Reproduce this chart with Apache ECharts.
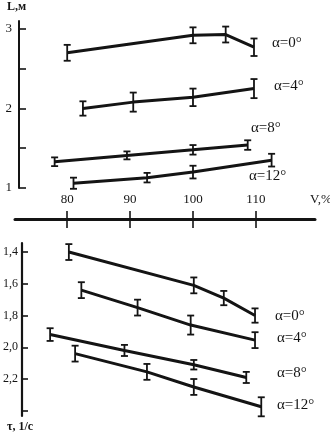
<!DOCTYPE html>
<html>
<head>
<meta charset="utf-8">
<script src="https://cdn.jsdelivr.net/npm/echarts@6/dist/echarts.min.js"></script>
<style>
  html, body { margin: 0; padding: 0; background: #fff; }
  #chart { width: 330px; height: 435px; }
</style>
</head>
<body>
<div id="chart"></div>
<script>
// Tick values and labels
const speedTicks = [80, 90, 100, 110];
const lengthTicks = [1, 1.5, 2, 2.5, 3];
const lengthLabels = [1, 2, 3];
const timeTicks = [1.4, 1.6, 1.8, 2.0, 2.2, 2.4];
const timeLabels = [1.4, 1.6, 1.8, 2.0, 2.2];
const angleNames = ['α=0°', 'α=4°', 'α=8°', 'α=12°'];

// Length L (m) versus speed V (%), with measurement spread
const lenSpeed0 = [80, 100, 105.2, 109.7];
const lenValue0 = [2.70, 2.92, 2.93, 2.77];
const lenError0 = [0.10, 0.10, 0.10, 0.11];

const lenSpeed4 = [82.5, 90.5, 100, 109.7];
const lenValue4 = [2.00, 2.08, 2.14, 2.25];
const lenError4 = [0.09, 0.12, 0.11, 0.12];

const lenSpeed8 = [78, 89.5, 100, 108.7];
const lenValue8 = [1.33, 1.41, 1.48, 1.54];
const lenError8 = [0.055, 0.05, 0.06, 0.06];

const lenSpeed12 = [81, 92.7, 100, 112.5];
const lenValue12 = [1.06, 1.13, 1.20, 1.35];
const lenError12 = [0.07, 0.06, 0.08, 0.08];

// Time τ (1/s) versus speed V (%), with measurement spread
const timeSpeed0 = [80, 100, 104.8, 109.8];
const timeValue0 = [1.40, 1.61, 1.69, 1.80];
const timeError0 = [0.05, 0.05, 0.045, 0.045];

const timeSpeed4 = [82, 91, 99.5, 109.8];
const timeValue4 = [1.64, 1.75, 1.86, 1.955];
const timeError4 = [0.05, 0.05, 0.06, 0.05];

const timeSpeed8 = [77, 88.9, 100, 108.4];
const timeValue8 = [1.92, 2.02, 2.11, 2.19];
const timeError8 = [0.04, 0.035, 0.03, 0.035];

const timeSpeed12 = [81, 92.5, 100, 110.8];
const timeValue12 = [2.04, 2.155, 2.25, 2.375];
const timeError12 = [0.05, 0.05, 0.05, 0.06];

const INK = '#141414';
const FONT = 'Liberation Serif';
const X_MIN = 71.7, X_MAX = 119.4;

const lenSets = [
  [lenSpeed0, lenValue0, lenError0],
  [lenSpeed4, lenValue4, lenError4],
  [lenSpeed8, lenValue8, lenError8],
  [lenSpeed12, lenValue12, lenError12]
];
const timeSets = [
  [timeSpeed0, timeValue0, timeError0],
  [timeSpeed4, timeValue4, timeError4],
  [timeSpeed8, timeValue8, timeError8],
  [timeSpeed12, timeValue12, timeError12]
];

// I-shaped error bar drawn through the axis scales
function renderErrorBar(params, api) {
  const x = api.value(0), y = api.value(1), e = api.value(2);
  const a = api.coord([x, y + e]);
  const b = api.coord([x, y - e]);
  const cap = 3.5;
  const style = { stroke: INK, lineWidth: 1.8 };
  return {
    type: 'group',
    children: [
      { type: 'line', shape: { x1: a[0], y1: a[1], x2: b[0], y2: b[1] }, style },
      { type: 'line', shape: { x1: a[0] - cap, y1: a[1], x2: a[0] + cap, y2: a[1] }, style },
      { type: 'line', shape: { x1: b[0] - cap, y1: b[1], x2: b[0] + cap, y2: b[1] }, style }
    ]
  };
}

function buildSeries(sets, xIndex, yIndex) {
  const out = [];
  sets.forEach(([xs, ys, es], i) => {
    out.push({
      type: 'line',
      name: angleNames[i],
      xAxisIndex: xIndex, yAxisIndex: yIndex,
      data: xs.map((v, k) => [v, ys[k]]),
      symbol: 'none',
      lineStyle: { color: INK, width: 3 },
      silent: true,
      z: 3
    });
    out.push({
      type: 'custom',
      xAxisIndex: xIndex, yAxisIndex: yIndex,
      data: xs.map((v, k) => [v, ys[k], es[k]]),
      renderItem: renderErrorBar,
      clip: false,
      silent: true,
      z: 4
    });
  });
  return out;
}

const chart = echarts.init(document.getElementById('chart'), null, { renderer: 'canvas' });

const axisText = { color: INK, fontFamily: FONT, fontSize: 12 };
const commaFmt = v => v.toFixed(1).replace('.', ',');

function angleLabel(text, x, y) {
  return {
    type: 'text', left: x, top: y - 9,
    style: { text, fill: INK, font: '15px "' + FONT + '"' }
  };
}

chart.setOption({
  animation: false,
  backgroundColor: '#fff',
  grid: [
    { left: 15, right: 15, top: 21, height: 167 },
    { left: 15, right: 15, top: 219, height: 0 },
    { left: 15, right: 15, top: 243, height: 173 }
  ],
  xAxis: [
    { type: 'value', gridIndex: 0, min: X_MIN, max: X_MAX, show: false },
    {
      type: 'value', gridIndex: 1, position: 'top', min: X_MIN, max: X_MAX,
      axisLine: { show: true, lineStyle: { color: INK, width: 3 } },
      axisTick: { show: true, customValues: speedTicks, length: 8, lineStyle: { color: INK, width: 1.6 } },
      axisLabel: { show: true, customValues: speedTicks, margin: 13, ...axisText, fontSize: 13 },
      splitLine: { show: false }
    },
    {
      type: 'value', gridIndex: 1, position: 'bottom', min: X_MIN, max: X_MAX,
      axisLine: { show: false },
      axisTick: { show: true, customValues: speedTicks, length: 9, lineStyle: { color: INK, width: 1.6 } },
      axisLabel: { show: false },
      splitLine: { show: false }
    },
    { type: 'value', gridIndex: 2, min: X_MIN, max: X_MAX, show: false }
  ],
  yAxis: [
    {
      type: 'value', gridIndex: 0, min: 1, max: 3.1, offset: -4,
      axisLine: { show: true, lineStyle: { color: INK, width: 2 } },
      axisTick: { show: true, inside: true, customValues: lengthTicks, length: 7, lineStyle: { color: INK, width: 1.6 } },
      axisLabel: { show: true, customValues: lengthLabels, margin: 7, ...axisText, fontSize: 13 },
      splitLine: { show: false }
    },
    { type: 'value', gridIndex: 1, show: false },
    {
      type: 'value', gridIndex: 2, min: 1.343, max: 2.433, inverse: true, offset: -5,
      axisLine: { show: true, lineStyle: { color: INK, width: 2.2 } },
      axisTick: { show: true, inside: true, customValues: timeTicks, length: 6, lineStyle: { color: INK, width: 1.6 } },
      axisLabel: { show: true, customValues: timeLabels, margin: 4, formatter: commaFmt, ...axisText, fontSize: 12 },
      splitLine: { show: false }
    }
  ],
  graphic: [
    { type: 'text', left: 7, top: 1, style: { text: 'L,м', fill: INK, font: 'bold 12px "' + FONT + '"' } },
    { type: 'text', left: 7, top: 421, style: { text: 'τ, 1/с', fill: INK, font: 'bold 12px "' + FONT + '"' } },
    { type: 'text', left: 310, top: 193, style: { text: 'V,%', fill: INK, font: '13px "' + FONT + '"' } },
    angleLabel(angleNames[0], 272, 45),
    angleLabel(angleNames[1], 274, 88),
    angleLabel(angleNames[2], 251, 130),
    angleLabel(angleNames[3], 249, 178),
    angleLabel(angleNames[0], 275, 318),
    angleLabel(angleNames[1], 277, 340),
    angleLabel(angleNames[2], 277, 375),
    angleLabel(angleNames[3], 277, 407)
  ],
  series: [...buildSeries(lenSets, 0, 0), ...buildSeries(timeSets, 3, 2)]
});
</script>
</body>
</html>
